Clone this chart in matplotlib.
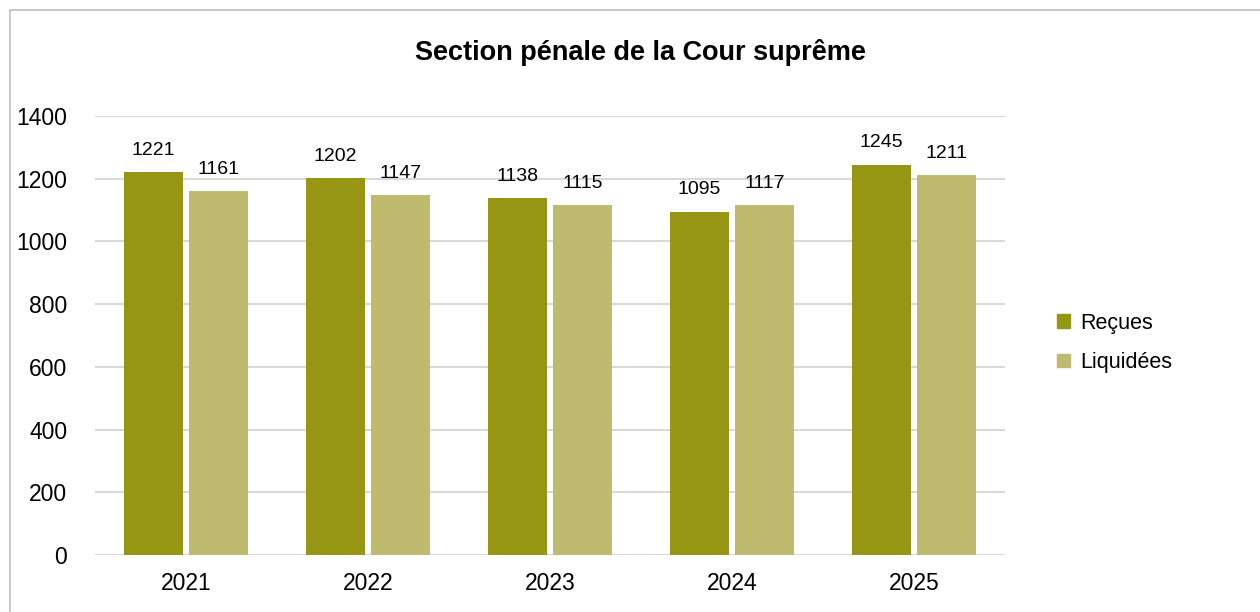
import numpy as np
import matplotlib.pyplot as plt
from matplotlib.patches import Rectangle, Patch

plt.rcParams['font.family'] = ['Liberation Sans', 'DejaVu Sans']

years = ['2021', '2022', '2023', '2024', '2025']
recues = [1221, 1202, 1138, 1095, 1245]
liquidees = [1161, 1147, 1115, 1117, 1211]

colors = {'recues': '#979614', 'liquidees': '#bfbb6e', 'grid': '#d9d9d9', 'frame': '#bfbfbf'}

fig = plt.figure(figsize=(12.6, 6.12), dpi=100)
ax = fig.add_axes([95 / 1260, 1 - 555 / 612, 910 / 1260, 439 / 612])

# outer chart frame, cropped at right and bottom like the source
fig.patches.append(Rectangle((10 / 1260, -0.1), 1.2, 1 - 10 / 612 + 0.1,
                             transform=fig.transFigure, fill=False,
                             edgecolor=colors['frame'], lw=1.2))

x = np.arange(len(years))
w = 0.32
off = 0.178
b1 = ax.bar(x - off, recues, w, color=colors['recues'], zorder=3)
b2 = ax.bar(x + off, liquidees, w, color=colors['liquidees'], zorder=3)

for bars in (b1, b2):
    for rect in bars:
        h = rect.get_height()
        ax.annotate(str(int(h)), (rect.get_x() + rect.get_width() / 2, h),
                    xytext=(0, 9.5), textcoords='offset points',
                    ha='center', va='bottom', fontsize=14)

ax.set_xlim(-0.5, len(years) - 0.5)
ax.set_ylim(0, 1400)
ax.set_yticks(range(0, 1401, 200))
ax.set_xticks(x)
ax.set_xticklabels(years)
ax.yaxis.grid(True, color=colors['grid'], lw=1.5, zorder=0)
ax.set_axisbelow(True)
for s in ax.spines.values():
    s.set_visible(False)
ax.tick_params(length=0, labelsize=16.5)
ax.tick_params(axis='y', pad=20)
ax.tick_params(axis='x', pad=12)

fig.text(640 / 1260, 1 - 53 / 612, 'Section pénale de la Cour suprême',
         ha='center', va='center', fontsize=19.5, fontweight='bold')

handles = [Patch(color=colors['recues'], label='Reçues'),
           Patch(color=colors['liquidees'], label='Liquidées')]
fig.legend(handles=handles, loc='center left',
           bbox_to_anchor=(1038 / 1260, 1 - 343 / 612), frameon=False,
           fontsize=15.5, handlelength=0.6, handleheight=0.6,
           handletextpad=0.45, labelspacing=0.85)

fig.savefig('out.png', dpi=100)
